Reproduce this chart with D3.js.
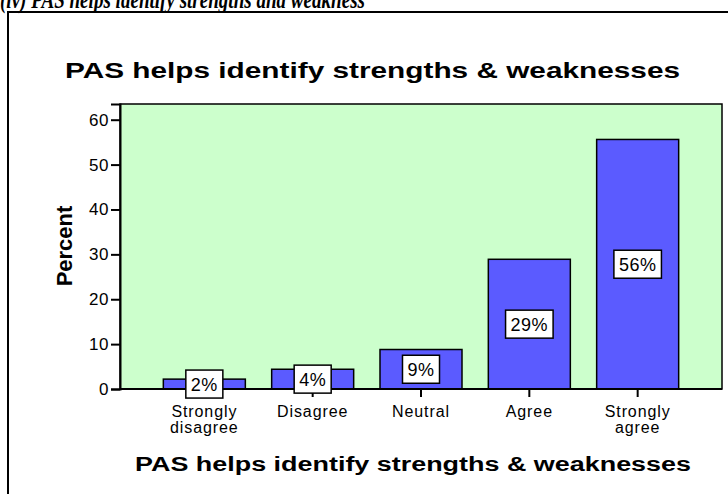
<!DOCTYPE html>
<html>
<head>
<meta charset="utf-8">
<script src="https://cdn.jsdelivr.net/npm/d3@7"></script>
<style>
body { margin: 0; background: #fff; }
svg { display: block; font-family: Arial, "Liberation Sans", sans-serif; }
</style>
</head>
<body>
<script>
var categories = [['Strongly', 'disagree'], ['Disagree'], ['Neutral'], ['Agree'], ['Strongly', 'agree']];
var percents = [2.2, 4.4, 8.8, 28.9, 55.6];
var labels = ['2%', '4%', '9%', '29%', '56%'];
var yTicks = [0, 10, 20, 30, 40, 50, 60];

var svg = d3.select('body').append('svg').attr('width', 728).attr('height', 494);

// caption of the page, cut at the top
svg.append('text').attr('x', 0).attr('y', 8)
	.attr('font-family', '"Liberation Serif", "DejaVu Serif", serif')
	.attr('font-style', 'italic').attr('font-weight', 'bold').attr('font-size', 26)
	.attr('textLength', 365).attr('lengthAdjust', 'spacingAndGlyphs')
	.text('(iv) PAS helps identify strengths and weakness');

// outer frame
svg.append('rect').attr('x', 8).attr('y', 12).attr('width', 740).attr('height', 500)
	.attr('fill', 'none').attr('stroke', '#000').attr('stroke-width', 2);

svg.append('text').attr('x', 65).attr('y', 78)
	.attr('font-weight', 'bold').attr('font-size', 22)
	.attr('textLength', 615).attr('lengthAdjust', 'spacingAndGlyphs')
	.text('PAS helps identify strengths & weaknesses');

var pLeft = 120, pRight = 722, pTop = 104, pBottom = 389;
var x = d3.scaleBand().domain(d3.range(categories.length)).range([pLeft, pRight]).paddingInner(0.243).paddingOuter(0.4);
var y = d3.scaleLinear().domain([0, 63.5]).range([pBottom, pTop]);

svg.append('rect').attr('x', pLeft).attr('y', pTop).attr('width', pRight - pLeft).attr('height', pBottom - pTop)
	.attr('fill', '#ccffcc').attr('stroke', '#000').attr('stroke-width', 1.5);

svg.selectAll('rect.bar').data(percents).enter().append('rect').attr('class', 'bar')
	.attr('x', (d, i) => x(i))
	.attr('y', d => y(d))
	.attr('width', x.bandwidth())
	.attr('height', d => pBottom - y(d))
	.attr('fill', '#5b5bff').attr('stroke', '#000').attr('stroke-width', 1.5);

// y axis
var yAxis = d3.axisLeft(y).tickValues(yTicks).tickSize(9).tickPadding(2);
var gy = svg.append('g').attr('transform', 'translate(' + pLeft + ',0)').call(yAxis);
gy.select('.domain').attr('stroke-width', 2);
gy.selectAll('.tick line').attr('stroke-width', 2);
gy.selectAll('.tick text').attr('font-size', 17).attr('letter-spacing', 0.5)
	.attr('font-family', 'Arial, sans-serif').attr('fill', '#000');

// x axis
var xAxis = d3.axisBottom(x).tickSize(8).tickFormat('');
var gx = svg.append('g').attr('transform', 'translate(0,' + pBottom + ')').call(xAxis);
gx.select('.domain').remove();
gx.selectAll('.tick line').attr('stroke-width', 2);
gx.selectAll('.tick').each(function(d) {
	var t = d3.select(this).append('text').attr('text-anchor', 'middle').attr('y', 28)
		.attr('font-size', 16).attr('letter-spacing', 0.9).attr('fill', '#000');
	categories[d].forEach(function(s, k) {
		t.append('tspan').attr('x', 0).attr('dy', k ? 16 : 0).text(s);
	});
});
svg.append('line').attr('x1', pLeft).attr('x2', pRight).attr('y1', pBottom).attr('y2', pBottom)
	.attr('stroke', '#000').attr('stroke-width', 2);

// value labels in boxes
var lab = svg.selectAll('g.lab').data(percents).enter().append('g').attr('class', 'lab')
	.attr('transform', (d, i) => 'translate(' + (x(i) + x.bandwidth() / 2) + ',' + y(d / 2) + ')');
lab.append('text').attr('text-anchor', 'middle').attr('dy', '0.36em').attr('font-size', 18)
	.attr('letter-spacing', 0.5)
	.text((d, i) => labels[i]);
lab.each(function() {
	var g = d3.select(this), bb = g.select('text').node().getBBox();
	g.insert('rect', 'text').attr('x', bb.x - 5).attr('y', -14).attr('width', bb.width + 10).attr('height', 28)
		.attr('fill', '#fff').attr('stroke', '#000').attr('stroke-width', 1.5);
});

svg.append('text').attr('transform', 'translate(72,246) rotate(-90)').attr('text-anchor', 'middle')
	.attr('font-weight', 'bold').attr('font-size', 22).text('Percent');

svg.append('text').attr('x', 135).attr('y', 471)
	.attr('font-weight', 'bold').attr('font-size', 20)
	.attr('textLength', 556).attr('lengthAdjust', 'spacingAndGlyphs')
	.text('PAS helps identify strengths & weaknesses');
</script>
</body>
</html>
